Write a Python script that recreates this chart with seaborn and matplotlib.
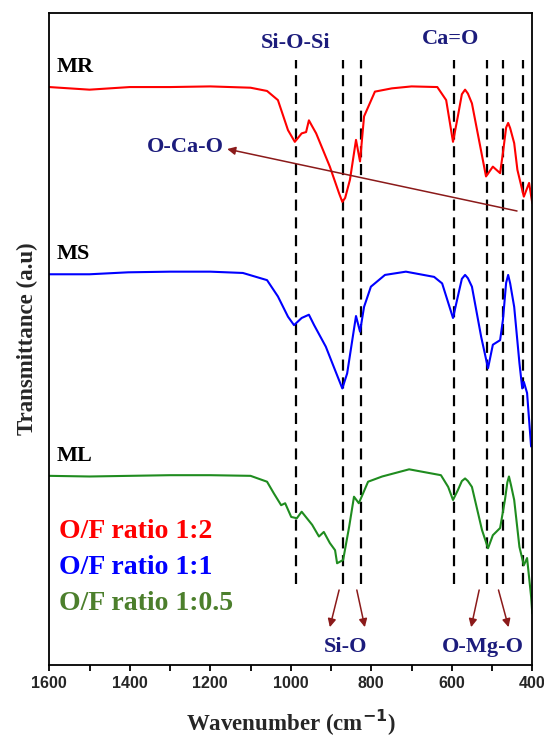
import numpy as np
import pandas as pd
import seaborn as sns
import matplotlib.pyplot as plt
from matplotlib.ticker import MultipleLocator

# FTIR spectra (wavenumber in cm-1, transmittance in a.u.)
wn_mr = [1600, 1550, 1500, 1450, 1400, 1300, 1200, 1100, 1059, 1032, 1007, 990, 973, 962, 955,
         947, 937, 903, 880, 872, 865, 853, 838, 828, 818, 791, 749, 700, 636, 614, 597, 585,
         575, 567, 560, 550, 515, 498, 480, 473, 465, 460, 455, 445, 437, 421, 408, 400]
t_mr = [88.6, 88.4, 88.2, 88.4, 88.6, 88.6, 88.7, 88.5, 88.0, 86.6, 82.0, 80.2, 81.5, 81.7, 83.5,
        82.6, 81.5, 76.4, 72.3, 71.0, 71.6, 74.4, 80.5, 77.2, 84.1, 87.9, 88.4, 88.7, 88.6, 86.6,
        80.2, 84.1, 87.5, 88.2, 87.6, 86.1, 74.9, 76.4, 75.4, 78.5, 82.4, 83.1, 82.3, 80.0, 75.9,
        71.8, 73.9, 70.8]

wn_ms = [1600, 1500, 1404, 1300, 1200, 1119, 1059, 1032, 1007, 992, 973, 955, 942, 913, 890, 872,
         860, 838, 828, 818, 801, 766, 714, 644, 624, 597, 585, 575, 567, 560, 550, 527, 510,
         498, 480, 473, 465, 460, 455, 445, 432, 425, 421, 413, 403]
t_ms = [59.9, 59.9, 60.2, 60.3, 60.3, 60.1, 59.0, 56.5, 53.4, 52.1, 53.2, 53.7, 52.1, 48.8, 45.2,
        42.4, 44.7, 53.5, 51.1, 54.9, 58.0, 59.8, 60.3, 59.5, 58.5, 53.2, 56.5, 59.2, 59.8, 59.3,
        58.0, 50.3, 45.5, 49.1, 49.8, 52.9, 58.6, 59.8, 58.5, 54.9, 46.3, 42.4, 43.4, 41.7, 33.5]

wn_ml = [1600, 1500, 1400, 1300, 1200, 1100, 1059, 1042, 1024, 1014, 999, 985, 973, 947, 930, 918,
         903, 890, 885, 870, 855, 843, 831, 808, 773, 706, 627, 609, 597, 585, 575, 567, 560,
         550, 525, 510, 498, 480, 468, 462, 458, 453, 445, 432, 421, 413, 403, 400]
t_ml = [29.0, 28.9, 29.0, 29.1, 29.1, 29.0, 28.1, 26.3, 24.5, 24.8, 22.7, 22.5, 23.5, 21.5, 19.7,
        20.4, 18.7, 17.6, 15.6, 16.1, 21.2, 25.8, 24.8, 28.1, 28.9, 30.0, 29.1, 27.3, 25.3, 26.8,
        28.2, 28.6, 28.2, 27.3, 20.7, 17.9, 19.9, 21.0, 25.3, 28.0, 28.9, 27.6, 25.3, 18.1, 15.3,
        16.4, 10.5, 7.9]

samples = ['MR', 'MS', 'ML']
ratios = ['O/F ratio 1:2', 'O/F ratio 1:1', 'O/F ratio 1:0.5']
line_colors = ['#ff0000', '#0000ff', '#1f8c1f']
text_colors = ['#ff0000', '#0000ff', '#4c7f2c']

band_lines = [988, 871, 826, 595, 513, 473, 424]

df = pd.concat([
    pd.DataFrame({'wn': wn_mr, 't': t_mr, 'sample': 'MR'}),
    pd.DataFrame({'wn': wn_ms, 't': t_ms, 'sample': 'MS'}),
    pd.DataFrame({'wn': wn_ml, 't': t_ml, 'sample': 'ML'}),
])

sns.set_style('ticks')
plt.rcParams['font.family'] = ['Liberation Serif', 'DejaVu Serif']

fig = plt.figure(figsize=(5.44, 7.38), dpi=100)
ax = fig.add_axes([0.0906, 0.0989, 0.8879, 0.8839])

sns.lineplot(data=df, x='wn', y='t', hue='sample', hue_order=samples,
             palette=line_colors, linewidth=1.5, legend=False, ax=ax)

for w in band_lines:
    ax.vlines(w, 12.4, 92.7, colors='black', linestyles=(0, (5, 3)), linewidth=1.6, zorder=1)

navy = '#1c1c7c'
dred = '#8b1a1a'
kw = dict(fontsize=16, fontweight='bold', ha='center', va='center')

for name, y in zip(samples, [91.7, 63.0, 32.0]):
    ax.text(1583, y, name, color='black', ha='left', va='center', fontsize=16, fontweight='bold')

ax.text(987, 95.4, 'Si-O-Si', color=navy, **kw)
ax.text(604, 95.9, 'Ca=O', color=navy, **kw)
ax.text(1263, 79.4, 'O-Ca-O', color=navy, **kw)
ax.text(865, 2.8, 'Si-O', color=navy, **kw)
ax.text(522, 2.8, 'O-Mg-O', color=navy, **kw)

arrow = dict(arrowstyle='-|>', color=dred, lw=1.1, mutation_scale=12, shrinkA=0, shrinkB=0)
ax.annotate('', xy=(1158, 79.1), xytext=(438, 69.6), arrowprops=arrow)
for start, tip in [(880, 903), (836, 816), (532, 552), (484, 459)]:
    ax.annotate('', xy=(tip, 5.8), xytext=(start, 11.5), arrowprops=arrow)

for label, c, y in zip(ratios, text_colors, [20.4, 14.9, 9.4]):
    ax.text(1576, y, label, color=c, ha='left', va='center', fontsize=20, fontweight='bold')

ax.set_xlim(1600, 400)
ax.set_ylim(0, 100)
ax.xaxis.set_major_locator(MultipleLocator(200))
ax.xaxis.set_minor_locator(MultipleLocator(100))
ax.set_yticks([])
ax.tick_params(axis='x', which='both', direction='out', length=4.5, width=1.3, color='black')
for lab in ax.get_xticklabels():
    lab.set_family(['Liberation Sans', 'DejaVu Sans'])
    lab.set_fontweight('bold')
    lab.set_fontsize(11.5)
for sp in ax.spines.values():
    sp.set_color('black')
    sp.set_linewidth(1.3)

ax.set_xlabel('Wavenumber (cm$^{\\mathbf{-1}}$)', fontsize=16.5, fontweight='bold', labelpad=12)
ax.set_ylabel('Transmittance (a.u)', fontsize=16.5, fontweight='bold', labelpad=8)

fig.savefig('out.png', dpi=100)
